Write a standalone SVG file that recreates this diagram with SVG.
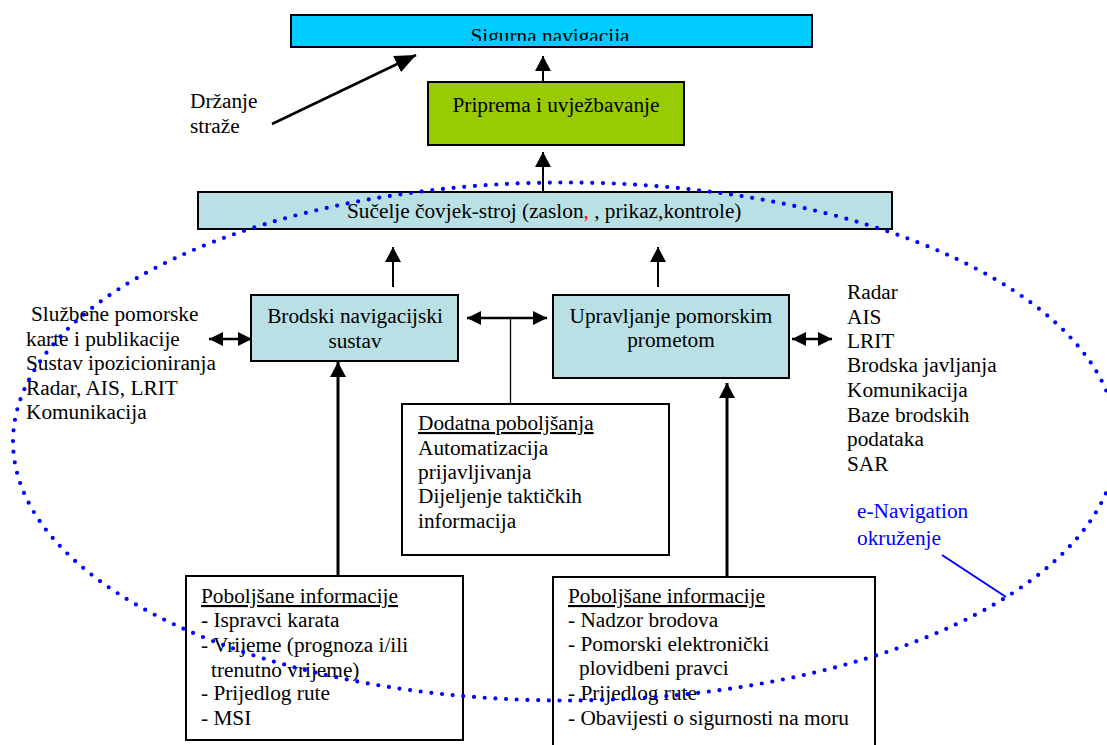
<svg xmlns="http://www.w3.org/2000/svg" width="1107" height="745" viewBox="0 0 1107 745">
<style>
text{font-family:'Liberation Serif','Times New Roman',serif;font-size:21.3px;fill:#000}
.box{stroke:#000;stroke-width:2}
.c{text-anchor:middle}
.u{text-decoration:underline}
.ln{stroke:#000;fill:none}
.blue{fill:#0000ff}
</style>
<defs>
<marker id="ah" markerUnits="userSpaceOnUse" markerWidth="16" markerHeight="16" refX="15" refY="8" orient="auto-start-reverse" viewBox="0 0 16 16">
<path d="M0,0 L15,8 L0,16 z" fill="#000"/>
</marker>
<marker id="ahs" markerUnits="userSpaceOnUse" markerWidth="14" markerHeight="14" refX="14" refY="7" orient="auto-start-reverse" viewBox="0 0 14 14">
<path d="M0,0 L14,7 L0,14 z" fill="#000"/>
</marker>
<marker id="ahb" markerUnits="userSpaceOnUse" markerWidth="22" markerHeight="18" refX="21" refY="9" orient="auto" viewBox="0 0 22 18">
<path d="M0,0 L21,9 L0,18 z" fill="#000"/>
</marker>
<clipPath id="clipTop"><rect x="290" y="15" width="522" height="26"/></clipPath>
</defs>

<g id="sigurna-navigacija">
<rect class="box" x="291" y="15" width="521" height="32" fill="#00ccff"/>
<text class="c" x="550" y="43" clip-path="url(#clipTop)">Sigurna navigacija</text>
</g>

<g id="priprema">
<rect class="box" x="428" y="82" width="256" height="63" fill="#99cc00"/>
<text class="c" x="556" y="112">Priprema i uvježbavanje</text>
</g>

<g id="drzanje-straze">
<text x="190" y="108">Držanje</text>
<text x="190" y="133">straže</text>
</g>

<g id="sucelje">
<rect class="box" x="198" y="192" width="694" height="37" fill="#b9e0e4"/>
<text x="347" y="218">Sučelje čovjek-stroj (zaslon<tspan fill="#ff0000">,</tspan> , prikaz,kontrole)</text>
</g>

<g id="brodski">
<rect class="box" x="251" y="295" width="207" height="66" fill="#b9e0e4"/>
<text class="c" x="355" y="323">Brodski navigacijski</text>
<text class="c" x="355" y="348">sustav</text>
</g>

<g id="upravljanje">
<rect class="box" x="553" y="295" width="236" height="83" fill="#b9e0e4"/>
<text class="c" x="671" y="323">Upravljanje pomorskim</text>
<text class="c" x="671" y="347">prometom</text>
</g>

<g id="lijevi-popis">
<text x="31" y="321">Službene pomorske</text>
<text x="26" y="345.5">karte i publikacije</text>
<text x="26" y="370">Sustav ipozicioniranja</text>
<text x="26" y="394.5">Radar, AIS, LRIT</text>
<text x="26" y="419">Komunikacija</text>
</g>

<g id="desni-popis">
<text x="847" y="299">Radar</text>
<text x="847" y="324">AIS</text>
<text x="847" y="348">LRIT</text>
<text x="847" y="372">Brodska javljanja</text>
<text x="847" y="397">Komunikacija</text>
<text x="847" y="422">Baze brodskih</text>
<text x="847" y="446">podataka</text>
<text x="847" y="471">SAR</text>
</g>

<g id="dodatna">
<rect class="box" x="402" y="404" width="267" height="151" fill="#fff"/>
<text class="u" x="418" y="430">Dodatna poboljšanja</text>
<text x="418" y="455">Automatizacija</text>
<text x="418" y="479">prijavljivanja</text>
<text x="418" y="503">Dijeljenje taktičkih</text>
<text x="418" y="528">informacija</text>
</g>

<g id="poboljsane-lijevo">
<rect class="box" x="186" y="576" width="277" height="164" fill="#fff"/>
<text class="u" x="201" y="603">Poboljšane informacije</text>
<text x="201" y="627">- Ispravci karata</text>
<text x="201" y="652">- Vrijeme (prognoza i/ili</text>
<text x="211" y="677">trenutno vrijeme)</text>
<text x="201" y="700">- Prijedlog rute</text>
<text x="201" y="725">- MSI</text>
</g>

<g id="poboljsane-desno">
<rect class="box" x="553" y="577" width="322" height="200" fill="#fff"/>
<text class="u" x="568" y="603">Poboljšane informacije</text>
<text x="568" y="627">- Nadzor brodova</text>
<text x="568" y="651">- Pomorski elektronički</text>
<text x="579" y="675">plovidbeni pravci</text>
<text x="568" y="700">- Prijedlog rute</text>
<text x="568" y="725">- Obavijesti o sigurnosti na moru</text>
</g>

<g id="connectors">
<line class="ln" x1="543" y1="82" x2="543" y2="56" stroke-width="2" marker-end="url(#ah)"/>
<line class="ln" x1="272" y1="124" x2="416" y2="55" stroke-width="2.5" marker-end="url(#ahb)"/>
<line class="ln" x1="543" y1="192" x2="543" y2="152" stroke-width="2" marker-end="url(#ah)"/>
<line class="ln" x1="393" y1="287" x2="393" y2="247" stroke-width="2" marker-end="url(#ah)"/>
<line class="ln" x1="658" y1="287" x2="658" y2="247" stroke-width="2" marker-end="url(#ah)"/>
<line class="ln" x1="209" y1="339" x2="252" y2="339" stroke-width="2.5" marker-start="url(#ahs)" marker-end="url(#ahs)"/>
<line class="ln" x1="792" y1="339" x2="832" y2="339" stroke-width="2.5" marker-start="url(#ahs)" marker-end="url(#ahs)"/>
<line class="ln" x1="467" y1="318" x2="547" y2="318" stroke-width="2.5" marker-start="url(#ahs)" marker-end="url(#ahs)"/>
<line class="ln" x1="510.5" y1="318" x2="510.5" y2="404" stroke-width="1.3"/>
<line class="ln" x1="338" y1="576" x2="338" y2="362" stroke-width="3" marker-end="url(#ah)"/>
<line class="ln" x1="727" y1="577" x2="727" y2="383" stroke-width="3" marker-end="url(#ah)"/>
</g>

<g id="e-navigation-okruzenje">
<ellipse cx="565" cy="441.5" rx="552" ry="259" fill="none" stroke="#0000ff" stroke-width="4.2" stroke-linecap="round" stroke-dasharray="0 10.7"/>
<line x1="942" y1="555" x2="1006" y2="597" stroke="#0000ff" stroke-width="2"/>
<text class="blue" x="857" y="518">e-Navigation</text>
<text class="blue" x="857" y="545">okruženje</text>
</g>
</svg>
